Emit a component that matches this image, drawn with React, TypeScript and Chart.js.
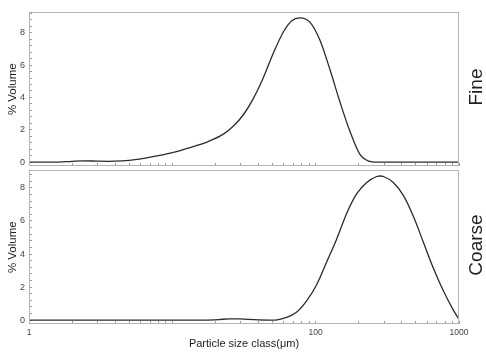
import React, { useEffect, useRef } from 'react';
import { Chart, registerables } from 'chart.js';
Chart.register(...registerables);

const fineSizes = [1, 1.6, 2, 2.4, 3, 3.6, 4.5, 5.5, 6.5, 8, 10, 13.3, 17.4, 22.7, 26.7, 31.3, 36.7, 43.2, 50.7, 59.5, 68.1, 77.6, 91.4, 107, 125.6, 147.6, 173, 203, 239, 260, 1000];
const fineVolume = [0, 0, 0.05, 0.08, 0.06, 0.05, 0.08, 0.15, 0.25, 0.4, 0.58, 0.9, 1.24, 1.73, 2.23, 2.93, 3.93, 5.24, 6.75, 8.05, 8.75, 8.92, 8.64, 7.55, 5.74, 3.73, 1.93, 0.5, 0.04, 0, 0];

const coarseSizes = [1, 10, 17, 21, 25, 29, 34, 40, 48, 54, 59.5, 73.8, 86.7, 101.8, 119.5, 140, 164.8, 193.5, 227, 267, 282, 297, 348, 409, 481, 565, 663, 779, 915, 1000];
const coarseVolume = [0, 0, 0, 0.03, 0.08, 0.08, 0.04, 0.01, 0, 0.02, 0.1, 0.49, 1.18, 2.16, 3.53, 4.9, 6.47, 7.65, 8.33, 8.69, 8.72, 8.69, 8.33, 7.55, 6.27, 4.7, 3.14, 1.76, 0.59, 0.05];

const xTickValues = [1, 2, 3, 4, 5, 6, 7, 8, 9, 10, 20, 30, 40, 50, 60, 70, 80, 90, 100, 200, 300, 400, 500, 600, 700, 800, 900, 1000];
const xLabeled = [1, 100, 1000];
const yTickValuesFine = [0, 0.4, 0.8, 1.2, 1.6, 2, 2.4, 2.8, 3.2, 3.6, 4, 4.4, 4.8, 5.2, 5.6, 6, 6.4, 6.8, 7.2, 7.6, 8, 8.4, 8.8, 9.2];
const yTickValuesCoarse = [0, 0.4, 0.8, 1.2, 1.6, 2, 2.4, 2.8, 3.2, 3.6, 4, 4.4, 4.8, 5.2, 5.6, 6, 6.4, 6.8, 7.2, 7.6, 8, 8.4, 8.8];
const yLabeled = [0, 2, 4, 6, 8];

const xTitle = 'Particle size class(μm)';
const yTitle = '% Volume';
const panelNames = ['Fine', 'Coarse'];

const FONT = "'Liberation Sans', Arial, sans-serif";
const FRAME = '#b4b4b4';
const TICK = '#9a9a9a';
const LINE = '#2b2b2b';

const framePlugin = {
  id: 'frame',
  afterDraw(chart: any) {
    const { ctx, chartArea } = chart;
    ctx.save();
    ctx.strokeStyle = FRAME;
    ctx.lineWidth = 1;
    ctx.strokeRect(
      Math.round(chartArea.left) + 0.5,
      Math.round(chartArea.top) + 0.5,
      Math.round(chartArea.right - chartArea.left) - 1,
      Math.round(chartArea.bottom - chartArea.top) - 1
    );
    ctx.restore();
  },
};

function makeChart(
  canvas: HTMLCanvasElement,
  xs: number[],
  ys: number[],
  yMin: number,
  yMax: number,
  yTicks: number[],
  bottom: boolean
) {
  const data = xs.map((x, i) => ({ x, y: ys[i] }));
  return new Chart(canvas, {
    type: 'line',
    data: {
      datasets: [
        {
          data,
          borderColor: LINE,
          borderWidth: 1.3,
          pointRadius: 0,
          fill: false,
          cubicInterpolationMode: 'monotone',
        },
      ],
    },
    plugins: [framePlugin],
    options: {
      animation: false,
      responsive: false,
      devicePixelRatio: 1,
      layout: { padding: { left: 0, right: 27, top: 8, bottom: 0 } },
      plugins: { legend: { display: false }, tooltip: { enabled: false } },
      scales: {
        x: {
          type: 'logarithmic',
          min: 1,
          max: 1000,
          position: 'bottom',
          border: { display: false },
          grid: {
            drawOnChartArea: false,
            drawTicks: true,
            tickLength: -3,
            tickColor: TICK,
          },
          afterBuildTicks: (scale: any) => {
            scale.ticks = xTickValues.map((v) => ({ value: v }));
          },
          afterFit: (scale: any) => {
            scale.height = bottom ? 30 : 14;
          },
          ticks: {
            display: bottom,
            autoSkip: false,
            maxRotation: 0,
            minRotation: 0,
            padding: 7,
            color: '#444',
            font: { family: FONT, size: 8.5 },
            callback: (v: any) => (xLabeled.includes(Number(v)) ? String(v) : ''),
          },
          title: {
            display: bottom,
            text: xTitle,
            color: '#222',
            font: { family: FONT, size: 11 },
            padding: { top: 0, bottom: 3 },
          },
        },
        y: {
          type: 'linear',
          min: yMin,
          max: yMax,
          position: 'left',
          border: { display: false },
          grid: {
            drawOnChartArea: false,
            drawTicks: true,
            tickLength: -3,
            tickColor: TICK,
          },
          afterBuildTicks: (scale: any) => {
            scale.ticks = yTicks.map((v) => ({ value: v }));
          },
          afterFit: (scale: any) => {
            scale.width = 29;
          },
          ticks: {
            autoSkip: false,
            padding: 7,
            color: '#444',
            font: { family: FONT, size: 9 },
            callback: (v: any) => (yLabeled.includes(Number(v)) ? String(v) : ''),
          },
          title: {
            display: true,
            text: yTitle,
            color: '#222',
            font: { family: FONT, size: 11.5 },
            padding: { top: 6, bottom: 0 },
          },
        },
      },
    } as any,
  });
}

export default function App() {
  const topRef = useRef<HTMLCanvasElement>(null);
  const botRef = useRef<HTMLCanvasElement>(null);

  useEffect(() => {
    const c1 = makeChart(topRef.current!, fineSizes, fineVolume, -0.24, 9.26, yTickValuesFine, false);
    const c2 = makeChart(botRef.current!, coarseSizes, coarseVolume, -0.235, 9.06, yTickValuesCoarse, true);
    return () => {
      c1.destroy();
      c2.destroy();
    };
  }, []);

  const labelStyle = (cy: number): React.CSSProperties => ({
    position: 'absolute',
    left: 475,
    top: cy,
    transform: 'translate(-50%, -50%) rotate(-90deg)',
    fontFamily: FONT,
    fontSize: 19,
    color: '#1e1e1e',
    whiteSpace: 'nowrap',
    lineHeight: 1,
  });

  return (
    <div style={{ position: 'absolute', left: 0, top: 0, width: 486, height: 354, background: '#fff' }}>
      <canvas ref={topRef} width={486} height={180} style={{ position: 'absolute', left: 0, top: 0, width: 486, height: 180 }} />
      <canvas ref={botRef} width={486} height={196} style={{ position: 'absolute', left: 0, top: 158, width: 486, height: 196 }} />
      <div style={labelStyle(87)}>{panelNames[0]}</div>
      <div style={labelStyle(245)}>{panelNames[1]}</div>
    </div>
  );
}
